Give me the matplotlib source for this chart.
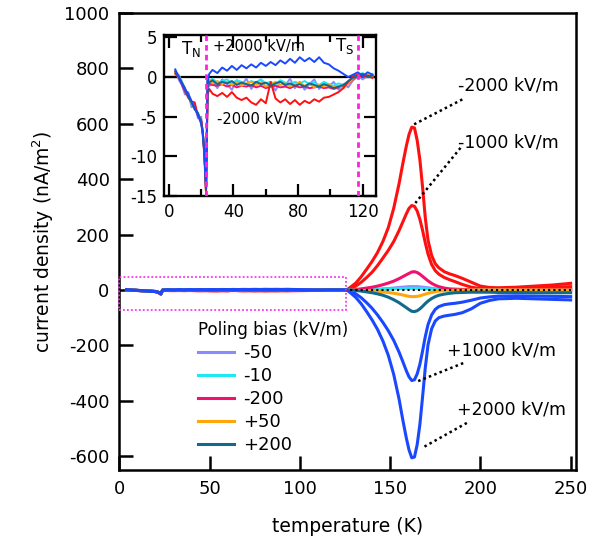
import matplotlib.pyplot as plt
from matplotlib.patches import Rectangle
from matplotlib.ticker import MultipleLocator

plt.rcParams['axes.unicode_minus'] = False

# low temperature part (also shown in the inset), K and nA/m^2
t_low = [4, 6, 8, 10, 12, 14, 16, 18, 20, 21, 22, 23,
         24, 25, 27, 30, 33, 36, 39, 42, 45, 48, 51, 54, 57, 60, 63, 66, 69, 72,
         75, 78, 81, 84, 87, 90, 93, 96, 99, 102, 105, 108, 111, 114, 117, 120, 123, 126]

low_p2000 = [0.9, 0.1, -0.8, -1.6, -2.1, -3.0, -3.9, -4.8, -5.9, -7.2, -9.8, -14.0,
             -0.5, 0.4, 0.9, 0.5, 1.2, 0.8, 1.4, 0.9, 1.5, 1.1, 1.6, 1.2, 1.8, 1.4, 1.9, 1.5,
             2.1, 1.7, 2.3, 1.8, 2.5, 2.0, 2.4, 1.9, 2.5, 1.8, 1.6, 1.1, 0.8, 0.4, 0.0, 0.3,
             0.6, 0.1, 0.6, 0.3]
low_m2000 = [0.4, 0.0, -0.9, -1.8, -2.6, -3.1, -3.2, -4.9, -5.4, -6.8, -10.2, -14.8,
             -2.2, -1.5, -2.1, -2.4, -2.0, -2.5, -1.9, -2.6, -2.9, -2.6, -3.2, -3.5, -2.8, -3.3,
             -0.6, -2.7, -3.2, -2.8, -3.4, -2.9, -3.5, -3.0, -3.3, -2.8, -3.1, -2.6, -2.5, -2.2,
             -1.9, -1.4, -0.6, 0.1, 0.3, 0.0, 0.2, -0.1]
low_p50 = [0.6, 0.2, -0.6, -1.5, -2.4, -3.3, -4.0, -4.6, -5.6, -7.0, -9.5, -14.5,
           -0.6, -0.3, -0.8, -0.5, -0.9, -0.6, -1.0, -0.7, -1.1, -0.8, -0.6, -1.0, -0.7, -1.2,
           -0.9, -0.6, -1.0, -0.8, -1.2, -0.9, -0.7, -1.1, -0.9, -1.3, -1.0, -1.2, -0.9, -1.3,
           -1.1, -1.4, -0.8, -0.2, 0.4, 0.1, 0.3, 0.0]
low_p200 = [0.7, 0.1, -0.7, -1.4, -2.5, -3.2, -4.1, -4.5, -5.7, -7.1, -9.4, -14.2,
            -0.3, -0.7, -0.4, -0.9, -0.6, -0.8, -0.5, -1.0, -0.7, -0.9, -1.1, -0.6, -0.9, -0.7,
            -1.1, -0.8, -0.6, -1.0, -0.8, -1.1, -0.9, -1.2, -0.8, -1.0, -1.2, -0.9, -1.1, -1.4,
            -1.2, -1.0, -0.5, -0.1, 0.2, 0.4, 0.1, 0.2]
low_m50 = [1.0, -0.3, -1.0, -2.2, -1.9, -3.8, -3.5, -5.2, -5.0, -7.5, -9.0, -13.5,
           -0.2, -1.2, -0.5, -1.4, -0.3, -0.9, -1.6, -0.4, -1.0, -0.2, -1.5, -0.7, -0.3, -1.3,
           -0.8, -1.7, -0.5, -1.1, -0.2, -1.4, -0.6, -1.6, -0.9, -0.3, -1.5, -0.8, -1.2, -0.6,
           -1.6, -0.9, -1.3, -0.4, 0.1, -0.3, 0.2, -0.1]
low_m10 = [0.5, 0.3, -0.5, -1.6, -2.3, -3.4, -3.9, -4.7, -5.5, -6.9, -9.6, -14.3,
           -0.4, -0.6, -0.2, -0.7, -0.5, -0.3, -0.8, -0.4, -0.6, -0.9, -0.5, -0.7, -0.3, -0.8,
           -0.6, -0.9, -0.4, -0.7, -1.0, -0.6, -0.8, -0.5, -0.9, -0.7, -1.0, -0.6, -0.9, -1.1,
           -0.8, -1.0, -0.6, 0.0, 0.3, 0.5, 0.0, 0.4]
low_m200 = [0.6, 0.1, -0.7, -1.5, -2.4, -3.2, -4.0, -4.7, -5.6, -7.0, -9.7, -14.4,
            -0.8, -0.9, -1.0, -1.1, -0.9, -1.2, -1.0, -1.3, -1.1, -1.2, -1.0, -1.3, -1.1, -1.4,
            -1.2, -1.1, -1.3, -1.2, -1.4, -1.1, -1.3, -1.2, -1.4, -1.3, -1.2, -1.4, -1.3, -1.5,
            -1.3, -1.2, -0.8, -0.3, 0.1, 0.2, 0.0, 0.1]
low_p1000 = [0.8, 0.2, -0.7, -1.5, -2.2, -3.1, -3.8, -4.7, -5.8, -7.1, -9.6, -14.1,
             -0.4, -0.2, 0.1, -0.1, 0.3, 0.2, 0.4, 0.3, 0.5, 0.4, 0.6, 0.5, 0.7, 0.6,
             0.8, 0.7, 0.9, 0.8, 1.0, 0.9, 1.0, 0.9, 1.1, 0.9, 1.0, 0.8, 0.7, 0.5,
             0.3, 0.1, 0.0, 0.2, 0.3, 0.1, 0.3, 0.2]
low_m1000 = [0.5, 0.0, -0.8, -1.7, -2.5, -3.2, -3.6, -4.8, -5.5, -6.9, -10.0, -14.6,
             -1.6, -1.2, -1.4, -1.7, -1.5, -1.6, -1.4, -1.8, -2.0, -1.9, -2.1, -2.2, -2.0, -2.2,
             -2.1, -2.0, -2.2, -2.1, -2.3, -2.1, -2.3, -2.2, -2.2, -2.0, -2.1, -1.9, -1.8, -1.6,
             -1.4, -1.0, -0.4, 0.1, 0.2, 0.0, 0.1, 0.0]

# high temperature part (main panel)
t_hi = [128, 131, 134, 137, 140, 143, 146, 149, 152, 155, 157, 159, 160.5, 162, 163.5,
        165, 166.5, 168, 169.5, 171, 173, 175, 177, 180, 183, 186, 190, 195, 200, 205,
        210, 220, 230, 240, 250]
hi_m2000 = [10, 25, 48, 75, 103, 135, 175, 225, 295, 385, 455, 520, 562, 588, 585,
            540, 470, 370, 260, 180, 125, 95, 80, 66, 58, 52, 42, 28, 14, 9,
            8, 10, 14, 18, 24]
hi_m1000 = [5, 14, 28, 45, 64, 88, 115, 143, 175, 215, 245, 275, 295, 305, 302,
            285, 255, 215, 170, 130, 92, 70, 57, 45, 37, 30, 20, 10, 5, 3,
            3, 5, 8, 10, 12]
hi_m200 = [0, 2, 4, 7, 10, 14, 19, 25, 32, 41, 48, 55, 60, 65, 66,
           63, 57, 49, 41, 33, 24, 17, 12, 7, 4, 3, 2, 1, 0, 0,
           0, 1, 1, 2, 2]
hi_m50 = [0, 0, 1, 1, 2, 3, 4, 5, 7, 9, 10, 11, 12, 12, 12,
          12, 11, 10, 9, 8, 6, 4, 3, 2, 1, 1, 0, 0, 0, 0,
          0, 0, 0, 0, 0]
hi_m10 = [0, 0, 1, 1, 1, 2, 2, 3, 4, 5, 5, 6, 6, 6, 6,
          6, 6, 5, 5, 4, 3, 2, 2, 1, 1, 0, 0, 0, 0, 0,
          0, 0, 0, 0, 0]
hi_p50 = [0, -1, -2, -3, -4, -5, -7, -9, -12, -15, -18, -21, -23, -24, -24,
          -23, -21, -18, -15, -12, -9, -6, -4, -3, -2, -1, -1, 0, 0, 0,
          0, 0, 0, 0, 0]
hi_p200 = [0, -2, -4, -7, -10, -14, -19, -26, -35, -46, -55, -64, -71, -77, -78,
           -75, -68, -59, -49, -40, -31, -24, -19, -15, -12, -10, -9, -8, -8, -8,
           -9, -9, -10, -10, -10]
hi_p1000 = [-5, -14, -28, -46, -66, -90, -117, -147, -182, -225, -258, -292, -314, -327, -324,
            -303, -268, -220, -168, -125, -90, -70, -60, -53, -50, -48, -44, -37, -29, -25,
            -22, -21, -22, -23, -24]
hi_p2000 = [-10, -27, -50, -78, -108, -142, -184, -236, -305, -395, -468, -535, -578, -606, -603,
            -558, -485, -385, -280, -198, -140, -112, -100, -94, -91, -88, -82, -68, -48, -38,
            -32, -30, -32, -34, -36]

c_red = '#ff1010'
c_blue = '#1a48ff'
c_pink = '#f0126c'
c_lav = '#8a8aff'
c_cyan = '#1ee8f2'
c_orange = '#ffa60a'
c_teal = '#0f6a8c'

# (low part, high part, colour, legend label), in drawing order
series = [
    (low_p1000, hi_p1000, c_blue, None),
    (low_m2000, hi_m2000, c_red, None),
    (low_m1000, hi_m1000, c_red, None),
    (low_m50, hi_m50, c_lav, '-50'),
    (low_m10, hi_m10, c_cyan, '-10'),
    (low_m200, hi_m200, c_pink, '-200'),
    (low_p50, hi_p50, c_orange, '+50'),
    (low_p200, hi_p200, c_teal, '+200'),
    (low_p2000, hi_p2000, c_blue, None),
]

fig = plt.figure(figsize=(6.01, 5.48), dpi=100)
ax = fig.add_axes([0.1985, 0.1423, 0.760, 0.834])

handles = []
for lo, hi, col, lab in series:
    ln, = ax.plot(t_low + t_hi, lo + hi, color=col, lw=2.2, solid_joinstyle='round')
    if lab is not None:
        ln.set_label(lab)
        handles.append(ln)

ax.plot([125, 251], [0, 0], color='black', ls=(0, (1, 1.5)), lw=1.5, zorder=5)
ax.add_patch(Rectangle((0, -72), 125.5, 120, fill=False, ec='#ff33ee',
                       ls=(0, (1, 1.2)), lw=1.3, zorder=6, clip_on=False))

ax.set_xlim(0, 253)
ax.set_ylim(-650, 1000)
ax.set_xticks([0, 50, 100, 150, 200, 250])
ax.set_yticks(range(-600, 1001, 200))
ax.tick_params(direction='in', length=10, width=1.8, labelsize=13, pad=7)
for s in ax.spines.values():
    s.set_linewidth(1.8)
ax.set_xlabel('temperature (K)', fontsize=13.5, labelpad=14)
ax.set_ylabel('current density (nA/m$^2$)', fontsize=13.5, labelpad=6)

# annotations for the large poling fields
notes = [('-2000 kV/m', 187.6, 740, (190, 688), (163, 597)),
         ('-1000 kV/m', 187.6, 531, (189, 513), (164, 314)),
         ('+1000 kV/m', 181.4, -217, (190.5, -264), (165.5, -329)),
         ('+2000 kV/m', 187.0, -433, (192.5, -480), (167.5, -571))]
for txt, tx, ty, p0, p1 in notes:
    ax.text(tx, ty, txt, fontsize=12.5, ha='left', va='center')
    ax.plot([p0[0], p1[0]], [p0[1], p1[1]], color='black', ls=(0, (1, 1.3)), lw=1.8)

leg = ax.legend(handles=handles, title='Poling bias (kV/m)', loc='upper left',
                bbox_to_anchor=(0.172, 0.326), frameon=False, fontsize=13,
                title_fontsize=12, handlelength=2.0, handletextpad=0.5,
                labelspacing=0.28, borderpad=0, borderaxespad=0, alignment='left')

# inset
ins = fig.add_axes([0.2729, 0.6423, 0.3522, 0.2938])
ins.axhline(0, color='black', lw=1.6, zorder=1)
inset_order = [(low_m50, c_lav), (low_m10, c_cyan), (low_m200, c_pink), (low_p50, c_orange),
               (low_m2000, c_red), (low_p200, c_teal), (low_p2000, c_blue)]
for lo, col in inset_order:
    ins.plot(t_low, lo, color=col, lw=1.4, zorder=2)
for tv in [22.7, 117]:
    ins.axvline(tv, color='#ff22dd', ls=(0, (2, 1.5)), lw=2.0, zorder=3)
ins.set_xlim(-3, 128)
ins.set_ylim(-15, 5.3)
ins.xaxis.set_major_locator(MultipleLocator(40))
ins.xaxis.set_minor_locator(MultipleLocator(20))
ins.set_yticks([-15, -10, -5, 0, 5])
ins.tick_params(which='both', direction='in', top=True, right=True, width=1.6,
                labelsize=12, pad=5)
ins.tick_params(which='major', length=9)
ins.tick_params(which='minor', length=5)
for s in ins.spines.values():
    s.set_linewidth(1.7)
ins.text(13.7, 3.5, 'T$_\\mathregular{N}$', fontsize=12, ha='center', va='center')
ins.text(109, 3.9, 'T$_\\mathregular{S}$', fontsize=12, ha='center', va='center')
ins.text(27.5, 3.8, '+2000 kV/m', fontsize=10.5, ha='left', va='center')
ins.text(29.5, -5.3, '-2000 kV/m', fontsize=10.5, ha='left', va='center')

fig.savefig('out.png', dpi=100)
